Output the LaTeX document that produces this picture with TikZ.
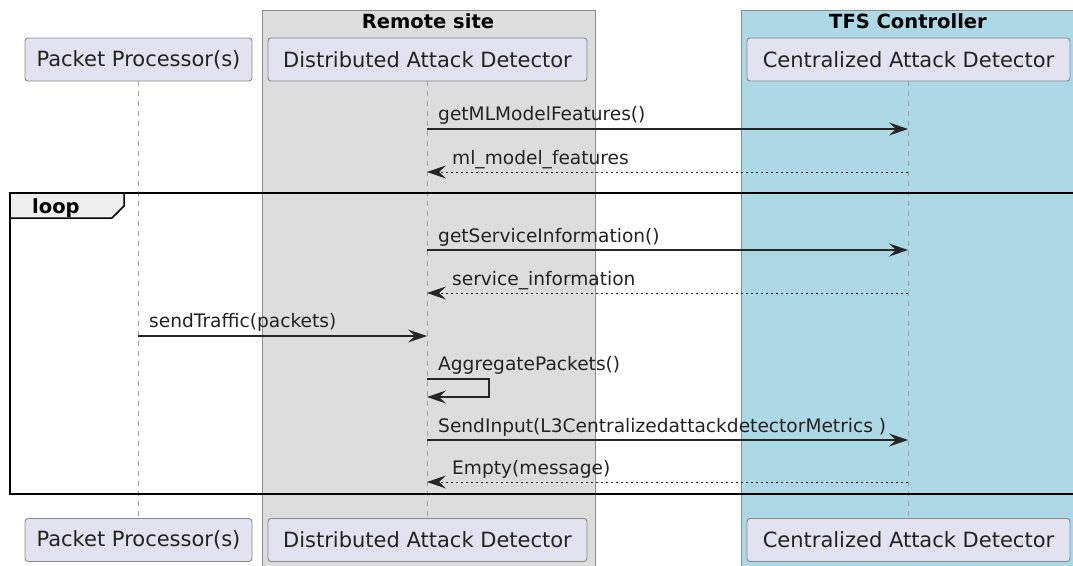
\documentclass[tikz,border=0pt]{standalone}
\usepackage{fontspec}
\setmainfont{DejaVu Sans}
\usetikzlibrary{arrows.meta}
\definecolor{partfill}{HTML}{E2E2F0}
\definecolor{partdraw}{HTML}{8A8A8A}
\definecolor{remotefill}{HTML}{DDDDDD}
\definecolor{tfsfill}{HTML}{ADD8E6}
\definecolor{boxdraw}{HTML}{8C8C8C}
\definecolor{lifegray}{HTML}{A0A0A0}
\definecolor{tabfill}{HTML}{EEEEEE}
\definecolor{txt}{HTML}{222222}
\tikzset{
  participant/.style={draw=partdraw, fill=partfill, rounded corners=3pt, line width=0.9pt,
    minimum height=43pt, inner sep=0pt, text=txt, font=\fontsize{21}{24}\selectfont},
  boxtitle/.style={font=\fontsize{19.5}{24}\selectfont\bfseries, inner sep=0pt},
  lifeline/.style={draw=lifegray, line width=0.9pt, dash pattern=on 5pt off 5pt},
  msg/.style={draw=black!85, line width=1.2pt, -{Stealth[length=19pt,width=13pt,inset=7pt]}},
  retmsg/.style={msg, line width=0.9pt, dash pattern=on 2.5pt off 2.5pt},
  msglabel/.style={font=\fontsize{18.6}{21}\selectfont, text=txt, inner sep=0pt, anchor=base west},
  groupbox/.style={draw=boxdraw, line width=0.9pt},
}
\begin{document}
\begin{tikzpicture}[x=1pt,y=-1pt]
\useasboundingbox (0,0) rectangle (1073,565);
% boxes
\path[groupbox, fill=remotefill] (262,10) rectangle (595,570);
\path[groupbox, fill=tfsfill] (741,10) rectangle (1080,570);
\node[boxtitle] (rtitle) at (428,21) {Remote site};
\node[boxtitle] (ttitle) at (908,21) {TFS Controller};
% participants top
\node[participant, minimum width=227pt] (pp) at (138.5,59.5) {Packet Processor(s)};
\node[participant, minimum width=319pt] (dad) at (427.5,59.5) {Distributed Attack Detector};
\node[participant, minimum width=323pt] (cad) at (908.5,59.5) {Centralized Attack Detector};
% participants bottom
\node[participant, minimum width=227pt] (ppb) at (138.5,540) {Packet Processor(s)};
\node[participant, minimum width=319pt] (dadb) at (427.5,540) {Distributed Attack Detector};
\node[participant, minimum width=323pt] (cadb) at (908.5,540) {Centralized Attack Detector};
% lifelines
\draw[lifeline] (pp.south) -- (ppb.north);
\draw[lifeline] (dad.south) -- (dadb.north);
\draw[lifeline] (cad.south) -- (cadb.north);
% lifeline coordinates
\coordinate (d1) at (427,129); \coordinate (c1) at (908,129);
\coordinate (d2) at (427,172); \coordinate (c2) at (908,172);
\coordinate (d3) at (427,250); \coordinate (c3) at (908,250);
\coordinate (d4) at (427,293); \coordinate (c4) at (908,293);
\coordinate (p5) at (138,336); \coordinate (d5) at (427,336);
\coordinate (d6a) at (427,379); \coordinate (d6b) at (427,397);
\coordinate (d7) at (427,440); \coordinate (c7) at (908,440);
\coordinate (d8) at (427,482); \coordinate (c8) at (908,482);
% messages
\draw[msg] (d1) -- (c1);
\node[msglabel] (l1) at (438,120) {getMLModelFeatures()};
\draw[retmsg] (c2) -- (d2);
\node[msglabel] (l2) at (452,164) {ml\_model\_features};
% loop frame
\draw[line width=2pt] (10,193) rectangle (1080,494);
\draw[line width=1.5pt, fill=tabfill] (10,193) -- (124,193) -- (124,206) -- (112,218) -- (10,218) -- cycle;
\node[font=\fontsize{19.5}{22}\selectfont\bfseries, inner sep=0pt, anchor=base west] (looplbl) at (32,213) {loop};
\draw[msg] (d3) -- (c3);
\node[msglabel] (l3) at (438,242) {getServiceInformation()};
\draw[retmsg] (c4) -- (d4);
\node[msglabel] (l4) at (452,285) {service\_information};
\draw[msg] (p5) -- (d5);
\node[msglabel] (l5) at (149,327) {sendTraffic(packets)};
\draw[msg] (d6a) -- ++(62,0) -- ++(0,18) -- (d6b);
\node[msglabel] (l6) at (438,370) {AggregatePackets()};
\draw[msg] (d7) -- (c7);
\node[msglabel] (l7) at (438,432) {SendInput(L3CentralizedattackdetectorMetrics )};
\draw[retmsg] (c8) -- (d8);
\node[msglabel] (l8) at (452,474) {Empty(message)};
\end{tikzpicture}
\end{document}
